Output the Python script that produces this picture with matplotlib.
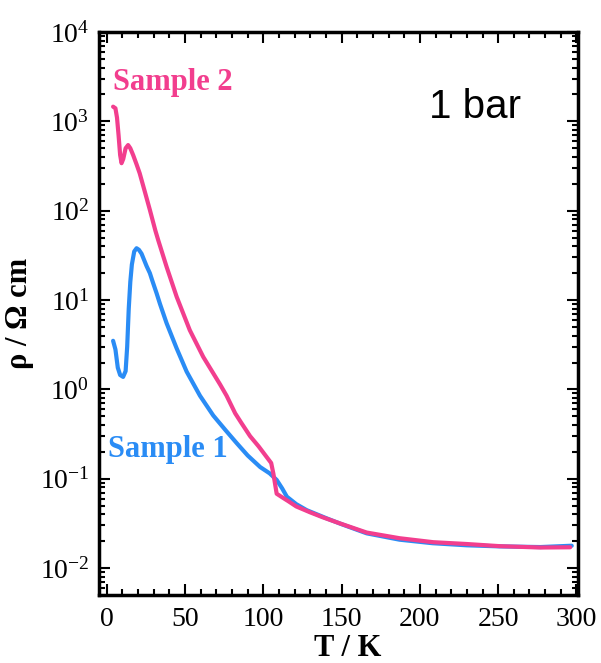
import matplotlib
matplotlib.use("Agg")
import matplotlib.pyplot as plt
from matplotlib.ticker import LogLocator, MultipleLocator, NullFormatter

plt.rcParams['font.family'] = ['Liberation Serif', 'DejaVu Serif']
plt.rcParams['mathtext.fontset'] = 'custom'
plt.rcParams['mathtext.rm'] = 'Liberation Serif'

# Sample 1 (blue)
t1 = [4, 5.5, 7, 8.5, 10.4, 12, 13, 14, 15, 16, 17.5, 19, 20.5, 22.2, 25.4, 27.5, 29, 31.8, 34,
      38.2, 44.6, 51, 59.5, 68, 76, 83, 90, 98, 104, 108.5, 112, 115, 121,
      127.7, 140.5, 150, 166, 187, 208, 230, 251, 277, 297]
rho1 = [3.5, 2.8, 1.75, 1.45, 1.38, 1.6, 3, 8, 16, 25, 35, 38, 36.5, 33, 24, 20, 16.6, 11.9, 9.0,
        5.5, 2.88, 1.58, 0.85, 0.51, 0.347, 0.25, 0.182, 0.135, 0.115, 0.097, 0.078, 0.063, 0.052,
        0.0445, 0.036, 0.031, 0.0245, 0.0208, 0.019, 0.018, 0.0175, 0.0172, 0.0178]

# Sample 2 (pink)
t2 = [4, 5.5, 6.5, 7.5, 8.5, 9.4, 10.5, 12, 13.6, 15, 16.8, 19, 21, 24, 27.5, 31, 32.8,
      38.2, 44.6, 53, 61.6, 72.3, 76.5, 82, 86, 91.5, 97, 102, 105, 106.4, 108.5,
      112, 116, 121, 130, 138, 149, 166, 187, 208.5, 230, 251, 277, 296]
rho2 = [1460, 1400, 1100, 700, 420, 340, 380, 500, 543, 500, 420, 330, 262, 170, 102, 60, 47,
        23.5, 10.9, 4.6, 2.31, 1.14, 0.85, 0.54, 0.42, 0.30, 0.23, 0.176, 0.15, 0.114, 0.068,
        0.062, 0.056, 0.049, 0.042, 0.037, 0.0316, 0.025, 0.0216, 0.0195, 0.0186, 0.0176, 0.017, 0.0171]

y_major = [1e-2, 1e-1, 1e0, 1e1, 1e2, 1e3, 1e4]

blue = '#2A8CF5'
pink = '#F23E8E'

fig = plt.figure(figsize=(6.01, 6.63), dpi=100)
ax = fig.add_axes([99/601, 1-595/663, 479/601, 563/663])

ax.plot(t1, rho1, color=blue, lw=3, solid_capstyle='round', solid_joinstyle='round')
ax.plot(t2, rho2, color=pink, lw=3, solid_capstyle='round', solid_joinstyle='round')

ax.set_yscale('log')
ax.set_xlim(-5, 301)
ax.set_ylim(5e-3, 1e4)

ax.xaxis.set_major_locator(MultipleLocator(50))
ax.xaxis.set_minor_locator(MultipleLocator(10))
ax.set_yticks(y_major)
ax.yaxis.set_minor_locator(LogLocator(base=10, subs=range(2, 10), numticks=20))
ax.yaxis.set_minor_formatter(NullFormatter())

ax.tick_params(which='both', direction='in', top=True, right=True, labelsize=20, width=1.5)
ax.tick_params(which='major', length=8)
ax.tick_params(which='minor', length=4)
ax.tick_params(axis='x', pad=9)
ax.tick_params(axis='y', pad=7)
for s in ax.spines.values():
    s.set_linewidth(2.5)

ax.set_xlabel('T / K', fontsize=22, fontweight='bold')
ax.set_ylabel('ρ / Ω cm', fontsize=22, fontweight='bold')
ax.xaxis.set_label_coords(0.52, -0.07)
ax.yaxis.set_label_coords(-0.135, 0.5)

ax.text(113/601, 1-90/663, 'Sample 2', transform=fig.transFigure, color=pink,
        fontsize=22, fontweight='bold', ha='left', va='baseline')
ax.text(108/601, 1-457/663, 'Sample 1', transform=fig.transFigure, color=blue,
        fontsize=22, fontweight='bold', ha='left', va='baseline')
ax.text(429/601, 1-118/663, '1 bar', transform=fig.transFigure, color='black',
        fontsize=29, family='Liberation Sans', ha='left', va='baseline')

fig.savefig('out.png', dpi=100)
